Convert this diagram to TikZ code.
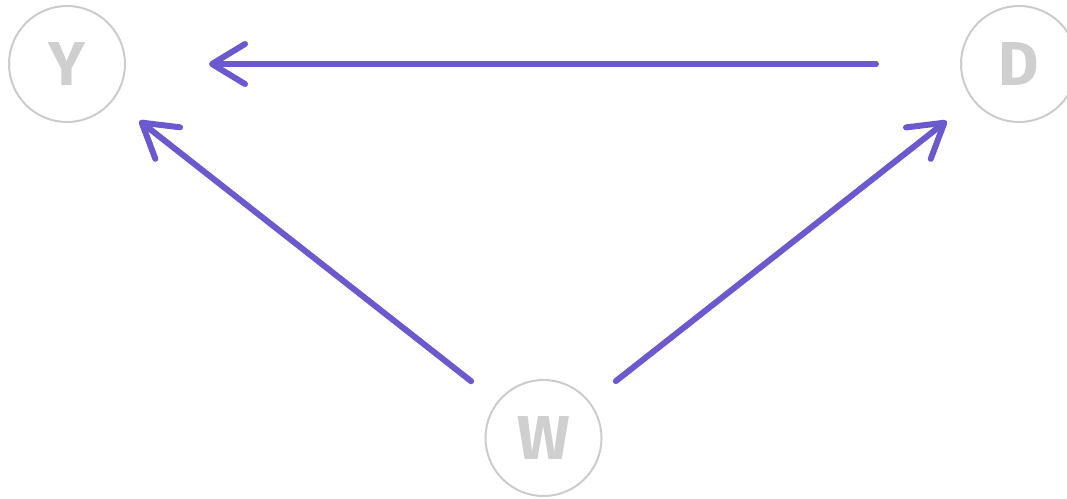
\documentclass[tikz,border=0pt]{standalone}
\usepackage{fontspec}
\setmainfont{Fira Sans}
\usetikzlibrary{arrows.meta}
\definecolor{edgecol}{RGB}{106,90,205}
\definecolor{ringcol}{RGB}{204,204,204}
\definecolor{labelcol}{RGB}{207,207,207}
\begin{document}
\begin{tikzpicture}[
    x=1pt,y=1pt,
    var/.style={draw=ringcol,circle,line width=2pt,minimum size=116pt,inner sep=0pt,text=labelcol,font=\fontsize{62}{62}\selectfont\bfseries},
    effect/.style={draw=edgecol,line width=6pt,line cap=round,-{Straight Barb[length=33pt,width=40pt,line cap=round,line join=round]}}
]
\useasboundingbox (0,0) rectangle (1067,498);
\node[var] (Y) at (67,434)   {Y};
\node[var] (D) at (1019,434) {D};
\node[var] (W) at (543.5,60) {W};

\draw[effect,shorten <=84pt,shorten >=83pt] (D) -- (Y);
\draw[effect,shorten <=33pt,shorten >=33pt] (W) -- (Y);
\draw[effect,shorten <=33pt,shorten >=33pt] (W) -- (D);
\end{tikzpicture}
\end{document}
